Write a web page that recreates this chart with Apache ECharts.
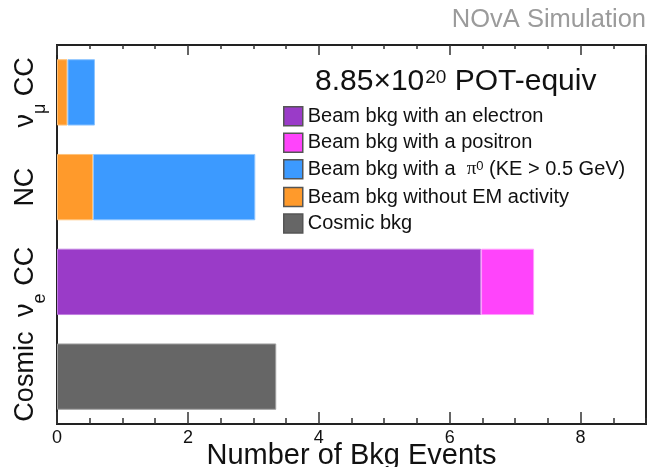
<!DOCTYPE html>
<html><head><meta charset="utf-8">
<script src="https://cdn.jsdelivr.net/npm/echarts@6/dist/echarts.min.js"></script>
<style>html,body{margin:0;padding:0;background:#fff}#c{width:648px;height:467px}</style>
</head><body><div id="c"></div>
<script>
var categories = ['νμ CC', 'NC', 'νe CC', 'Cosmic'];
var withoutEM = [0.16, 0.55, '-', '-'];
var pi0 = [0.42, 2.48, '-', '-'];
var electron = ['-', '-', 6.48, '-'];
var positron = ['-', '-', 0.81, '-'];
var cosmic = ['-', '-', '-', 3.35];
var seriesNames = ['Beam bkg with an electron', 'Beam bkg with a positron', 'Beam bkg with a  π0 (KE > 0.5 GeV)', 'Beam bkg without EM activity', 'Cosmic bkg'];
var xTickLabels = ['0', '2', '4', '6', '8'];

var FONT = '"Liberation Sans", Arial, Helvetica, sans-serif';
var chart = echarts.init(document.getElementById('c'));

function bar(name, data, color, border) {
  return {
    name: name, type: 'bar', stack: 'total', data: data, barWidth: '70%',
    xAxisIndex: 0, yAxisIndex: 0,
    itemStyle: { color: color, borderColor: border, borderWidth: 1 },
    emphasis: { disabled: true }
  };
}

var catRich = {
  n: { fontSize: 27, fontFamily: FONT, color: '#111', lineHeight: 30, verticalAlign: 'top', padding: [0, 0, 12, 0] },
  s: { fontSize: 18, fontFamily: FONT, color: '#111', lineHeight: 18, verticalAlign: 'top', padding: [19, 0, 5, 0] }
};
function catFmt(v) {
  if (v === 'νμ CC') return '{n|ν}{s|μ}{n| CC}';
  if (v === 'νe CC') return '{n|ν}{s|e}{n| CC}';
  return '{n|' + v + '}';
}

var option = {
  animation: false,
  backgroundColor: '#fff',
  title: [
    { text: 'NOvA Simulation', right: 2, top: 7, padding: 0,
      textStyle: { fontSize: 25.5, fontWeight: 'normal', color: '#9b9b9b', fontFamily: FONT } },
    { text: '{a|8.85×10}{s|20}{a| POT-equiv}', left: 315, top: 67, padding: 0,
      textStyle: { fontWeight: 'normal', rich: {
        a: { fontSize: 30, fontWeight: 'normal', fontFamily: FONT, color: '#111', lineHeight: 36, verticalAlign: 'top', padding: [0, 0, 0, 0] },
        s: { fontSize: 19, fontWeight: 'normal', fontFamily: FONT, color: '#111', lineHeight: 19, verticalAlign: 'top', padding: [1, 0, 16, 1] }
      } } }
  ],
  legend: {
    orient: 'vertical', left: 283, top: 106, padding: 0, itemWidth: 19, itemHeight: 19, itemGap: 6,
    icon: 'rect',
    data: seriesNames,
    itemStyle: { borderColor: '#555', borderWidth: 1.5 },
    selectedMode: false,
    formatter: function (name) {
      if (name.indexOf('π0') >= 0) return '{t|Beam bkg with a  }{p|π}{s|0}{t| (KE > 0.5 GeV)}';
      return '{t|' + name + '}';
    },
    textStyle: {
      fontSize: 20, fontFamily: FONT, color: '#111',
      rich: {
        t: { fontSize: 20, fontFamily: FONT, color: '#111', lineHeight: 19 },
        p: { fontSize: 19, fontFamily: '"Liberation Serif", serif', color: '#111', lineHeight: 19 },
        s: { fontSize: 13, fontFamily: FONT, color: '#111', lineHeight: 19, verticalAlign: 'top', padding: [0, 0, 8, 0] }
      }
    }
  },
  grid: { left: 57, right: 2, top: 45, bottom: 43, outerBoundsMode: 'none', containLabel: false,
    show: true, borderColor: '#222', borderWidth: 2, backgroundColor: 'transparent' },
  xAxis: [
    { type: 'value', position: 'bottom', min: 0, max: 9, interval: 2,
      axisLine: { show: true, lineStyle: { color: '#222', width: 2 } },
      axisTick: { show: true, inside: true, length: 12, lineStyle: { color: '#333', width: 1.5 } },
      axisLabel: { margin: 5, fontSize: 18, fontFamily: FONT, color: '#111', showMaxLabel: false,
        formatter: function (v) { var i = xTickLabels.indexOf(String(v)); return i >= 0 ? xTickLabels[i] : ''; } },
      splitLine: { show: false },
      name: 'Number of Bkg Events', nameLocation: 'middle', nameGap: 17, nameMoveOverlap: false,
      nameTextStyle: { fontSize: 29, fontFamily: FONT, color: '#111', verticalAlign: 'top' } },
    { type: 'value', position: 'bottom', min: 0, max: 9, interval: 0.5,
      axisLine: { show: false }, axisLabel: { show: false }, splitLine: { show: false },
      axisTick: { show: true, inside: true, length: 6, lineStyle: { color: '#333', width: 1.5 } } },
    { type: 'value', position: 'top', min: 0, max: 9, interval: 0.5,
      axisLine: { show: true, lineStyle: { color: '#222', width: 2 } }, axisLabel: { show: false }, splitLine: { show: false },
      axisTick: { show: true, inside: true, length: 4, lineStyle: { color: '#333', width: 1.5 } } },
    { type: 'value', position: 'top', min: 0, max: 9, interval: 2,
      axisLine: { show: false }, axisLabel: { show: false }, splitLine: { show: false },
      axisTick: { show: true, inside: true, length: 10, lineStyle: { color: '#333', width: 1.5 } } }
  ],
  yAxis: [
    { type: 'category', data: categories, inverse: true,
      axisLine: { show: true, lineStyle: { color: '#222', width: 2 } },
      axisTick: { show: false },
      axisLabel: { interval: 0, hideOverlap: false, rotate: 90, margin: 15, formatter: catFmt, rich: catRich, fontSize: 27, fontFamily: FONT, color: '#111' } },
    { type: 'value', position: 'right', min: 0, max: 1,
      axisLine: { show: true, lineStyle: { color: '#222', width: 2 } },
      axisTick: { show: false }, axisLabel: { show: false }, splitLine: { show: false } }
  ],
  series: [
    bar(seriesNames[3], withoutEM, '#ff9a2b', '#ffc27a'),
    bar(seriesNames[2], pi0, '#3c9aff', '#8cc4ff'),
    bar(seriesNames[0], electron, '#9a3bc8', '#c07ee0'),
    bar(seriesNames[1], positron, '#ff44fb', '#ff9cfd'),
    bar(seriesNames[4], cosmic, '#666666', '#a0a0a0')
  ]
};
chart.setOption(option);
</script></body></html>
